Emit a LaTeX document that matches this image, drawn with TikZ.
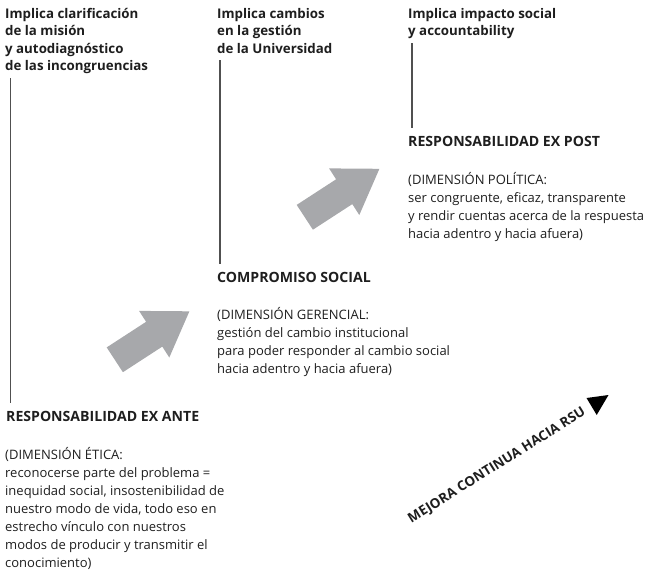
\documentclass[tikz,border=0pt]{standalone}
\usepackage{fontspec}
\setmainfont{Open Sans}
\definecolor{arrowgray}{RGB}{167,168,171}
\definecolor{linegray}{RGB}{80,80,80}
\definecolor{txt}{RGB}{30,30,30}
\begin{document}
\begin{tikzpicture}[x=1pt,y=-1pt,
  hdr/.style={font=\bfseries\fontsize{13.3}{17.2}\selectfont, align=left, inner sep=0pt, anchor=north west, text=txt},
  ttl/.style={font=\bfseries\fontsize{14.1}{16}\selectfont, inner sep=0pt, anchor=base west, text=txt},
  bdy/.style={font=\fontsize{13}{18.1}\selectfont, align=left, inner sep=0pt, anchor=north west, text=txt},
  vline/.style={draw=linegray, line width=1.1pt},
  bigarrow/.style={fill=arrowgray, draw=none}]
\useasboundingbox (0,0) rectangle (648,574);

% headers
\node[hdr] (h1) at (5,6.5) {\strut Implica clarificación\\de la misión\\y autodiagnóstico\\de las incongruencias};
\node[hdr] (h2) at (217,6.5) {\strut Implica cambios\\en la gestión\\de la Universidad};
\node[hdr] (h3) at (408,6.5) {\strut Implica impacto social\\y accountability};

% titles
\node[ttl] (ea) at (6,421) {RESPONSABILIDAD EX ANTE};
\node[ttl] (cs) at (217,282.5) {COMPROMISO SOCIAL};
\node[ttl] (ep) at (408,146.5) {RESPONSABILIDAD EX POST};

% bodies
\node[bdy] (b1) at (5,446.3) {\strut (DIMENSIÓN ÉTICA:\\reconocerse parte del problema =\\inequidad social, insostenibilidad de\\nuestro modo de vida, todo eso en\\estrecho vínculo con nuestros\\modos de producir y transmitir el\\conocimiento)};
\node[bdy] (b2) at (217,306.8) {\strut (DIMENSIÓN GERENCIAL:\\gestión del cambio institucional\\para poder responder al cambio social\\hacia adentro y hacia afuera)};
\node[bdy] (b3) at (408,171.8) {\strut (DIMENSIÓN POLÍTICA:\\ser congruente, eficaz, transparente\\y rendir cuentas acerca de la respuesta\\hacia adentro y hacia afuera)};

% vertical lines
\coordinate (l1a) at (10.5,78);  \coordinate (l1b) at (10.5,403);
\coordinate (l2a) at (220,60);   \coordinate (l2b) at (220,264);
\coordinate (l3a) at (412,43);   \coordinate (l3b) at (412,128);
\draw[vline] (l1a) -- (l1b);
\draw[vline] (l2a) -- (l2b);
\draw[vline] (l3a) -- (l3b);

% big arrows
\fill[bigarrow] (296.7,204.9) -- (336.1,179.3) -- (329.1,168.4) -- (379.4,168.8) -- (359.3,215.0) -- (352.3,204.1) -- (312.9,229.7) -- cycle;
\fill[bigarrow] (106.7,347.4) -- (146.1,321.8) -- (139.1,310.9) -- (189.4,311.3) -- (169.3,357.5) -- (162.3,346.6) -- (122.9,372.2) -- cycle;

% continuous improvement
\node[font=\bfseries\fontsize{13.5}{15}\selectfont, rotate=32, inner sep=0pt, text=txt] (mc) at (497,466) {MEJORA CONTINUA HACIA RSU};
\fill[black] (586.5,398) -- (608.5,395) -- (596.7,415) -- cycle;
\end{tikzpicture}
\end{document}
